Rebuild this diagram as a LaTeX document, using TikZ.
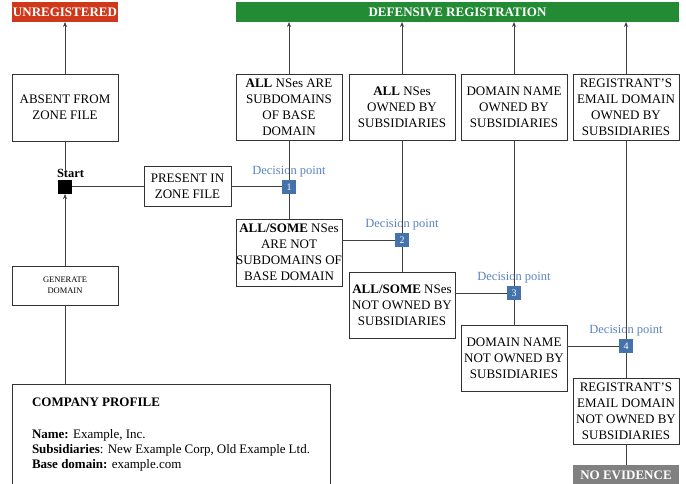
\documentclass[tikz,border=0pt]{standalone}
\usepackage{fontspec}
\setmainfont{Liberation Serif}
\usetikzlibrary{arrows.meta}
\definecolor{unregred}{RGB}{208,56,28}
\definecolor{defgreen}{RGB}{34,139,52}
\definecolor{evgray}{RGB}{128,128,128}
\definecolor{dpblue}{RGB}{68,114,170}
\definecolor{dplabel}{RGB}{91,132,192}
\tikzset{
  every node/.style={inner sep=0pt, outer sep=0pt},
  statebox/.style={draw=black!80, line width=0.8pt, fill=white, minimum width=106pt, minimum height=66pt, align=center, font=\fontsize{13}{16}\selectfont},
  bar/.style={minimum height=20pt, text=white, font=\fontsize{13}{15}\selectfont\bfseries},
  dpsq/.style={fill=dpblue, minimum width=14pt, minimum height=14pt, text=white, font=\fontsize{10}{12}\selectfont},
  dplab/.style={text=dplabel, font=\fontsize{12.5}{14}\selectfont},
  conn/.style={draw=black!75, line width=1pt},
  arr/.style={conn, -{Stealth[length=5pt,width=4pt]}}
}
\begin{document}
\begin{tikzpicture}[x=1pt,y=-1pt]
\useasboundingbox (0,0) rectangle (686,484);
% bars
\node[bar, fill=unregred, minimum width=106pt] (unreg) at (65,12) {UNREGISTERED};
\node[bar, fill=defgreen, minimum width=443pt] (defreg) at (457.5,12) {DEFENSIVE REGISTRATION};
\node[bar, fill=evgray, minimum width=106pt, minimum height=20pt] (noev) at (626,475) {NO EVIDENCE};
% top row
\node[statebox, minimum height=67pt] (absent) at (65,107.5) {ABSENT FROM\\ZONE FILE};
\node[statebox] (allsub) at (289,107) {\textbf{ALL} NSes ARE\\SUBDOMAINS\\OF BASE\\DOMAIN};
\node[statebox] (allown) at (402,107) {\textbf{ALL} NSes\\OWNED BY\\SUBSIDIARIES};
\node[statebox] (dnown) at (514,107) {DOMAIN NAME\\OWNED BY\\SUBSIDIARIES};
\node[statebox] (regown) at (626,107) {REGISTRANT'S\\EMAIL DOMAIN\\OWNED BY\\SUBSIDIARIES};
% start
\node[fill=black, minimum width=14pt, minimum height=14pt] (start) at (65,187) {};
\node[anchor=south west, font=\fontsize{12.5}{14}\selectfont\bfseries] (startlab) at (57,177.5) {Start};
\node[statebox, minimum width=87pt, minimum height=40pt] (present) at (187.5,186) {PRESENT IN\\ZONE FILE};
% decision points
\node[dpsq] (dp1) at (289,187) {1};
\node[dpsq] (dp2) at (402,240) {2};
\node[dpsq] (dp3) at (514,293) {3};
\node[dpsq] (dp4) at (626,346) {4};
\node[dplab, anchor=south] (dl1) at (289,177) {Decision point};
\node[dplab, anchor=south] (dl2) at (402,230) {Decision point};
\node[dplab, anchor=south] (dl3) at (514,283) {Decision point};
\node[dplab, anchor=south] (dl4) at (626,336) {Decision point};
% negative boxes
\node[statebox, minimum height=67pt] (notsub) at (289,252.5) {\textbf{ALL/SOME} NSes\\ARE NOT\\SUBDOMAINS OF\\BASE DOMAIN};
\node[statebox] (notown) at (402,305) {\textbf{ALL/SOME} NSes\\NOT OWNED BY\\SUBSIDIARIES};
\node[statebox] (dnnot) at (514,358) {DOMAIN NAME\\NOT OWNED BY\\SUBSIDIARIES};
\node[statebox] (regnot) at (626,411) {REGISTRANT'S\\EMAIL DOMAIN\\NOT OWNED BY\\SUBSIDIARIES};
% generate and company
\node[statebox, minimum height=39pt, font=\fontsize{8.5}{11}\selectfont] (gen) at (65,285.5) {GENERATE\\DOMAIN};
\node[draw=black!80, line width=0.8pt, fill=white, anchor=north west, inner xsep=20pt, inner ysep=14pt, font=\fontsize{13}{15}\selectfont] (company) at (12,384)
 {\parbox[t][96pt][t]{278pt}{\raggedright\textbf{COMPANY PROFILE}\\[17pt]
 \textbf{Name:} Example, Inc.\\
 \textbf{Subsidiaries}: New Example Corp, Old Example Ltd.\\
 \textbf{Base domain:} example.com}};
% connectors
\draw[arr] (absent.north) -- (unreg.south);
\draw[arr] (allsub.north) -- (allsub.north |- defreg.south);
\draw[arr] (allown.north) -- (allown.north |- defreg.south);
\draw[arr] (dnown.north) -- (dnown.north |- defreg.south);
\draw[arr] (regown.north) -- (regown.north |- defreg.south);
\draw[conn] (absent.south) -- ([yshift=-1pt]absent.south |- startlab.north);
\draw[conn] (start.east) -- (present.west |- start);
\draw[conn] (present.east |- dp1) -- (dp1.west);
\draw[arr] (gen.north) -- (start.south);
\draw[conn] (company.north -| gen) -- (gen.south);
\draw[conn] (dp1.north) -- (allsub.south);
\draw[conn] (dp1.south) -- (notsub.north);
\draw[conn] (notsub.east |- dp2) -- (dp2.west);
\draw[conn] (dp2.north) -- (allown.south);
\draw[conn] (dp2.south) -- (notown.north);
\draw[conn] (notown.east |- dp3) -- (dp3.west);
\draw[conn] (dp3.north) -- (dnown.south);
\draw[conn] (dp3.south) -- (dnnot.north);
\draw[conn] (dnnot.east |- dp4) -- (dp4.west);
\draw[conn] (dp4.north) -- (regown.south);
\draw[conn] (dp4.south) -- (regnot.north);
\draw[conn] (regnot.south) -- (noev.north);
\end{tikzpicture}
\end{document}
